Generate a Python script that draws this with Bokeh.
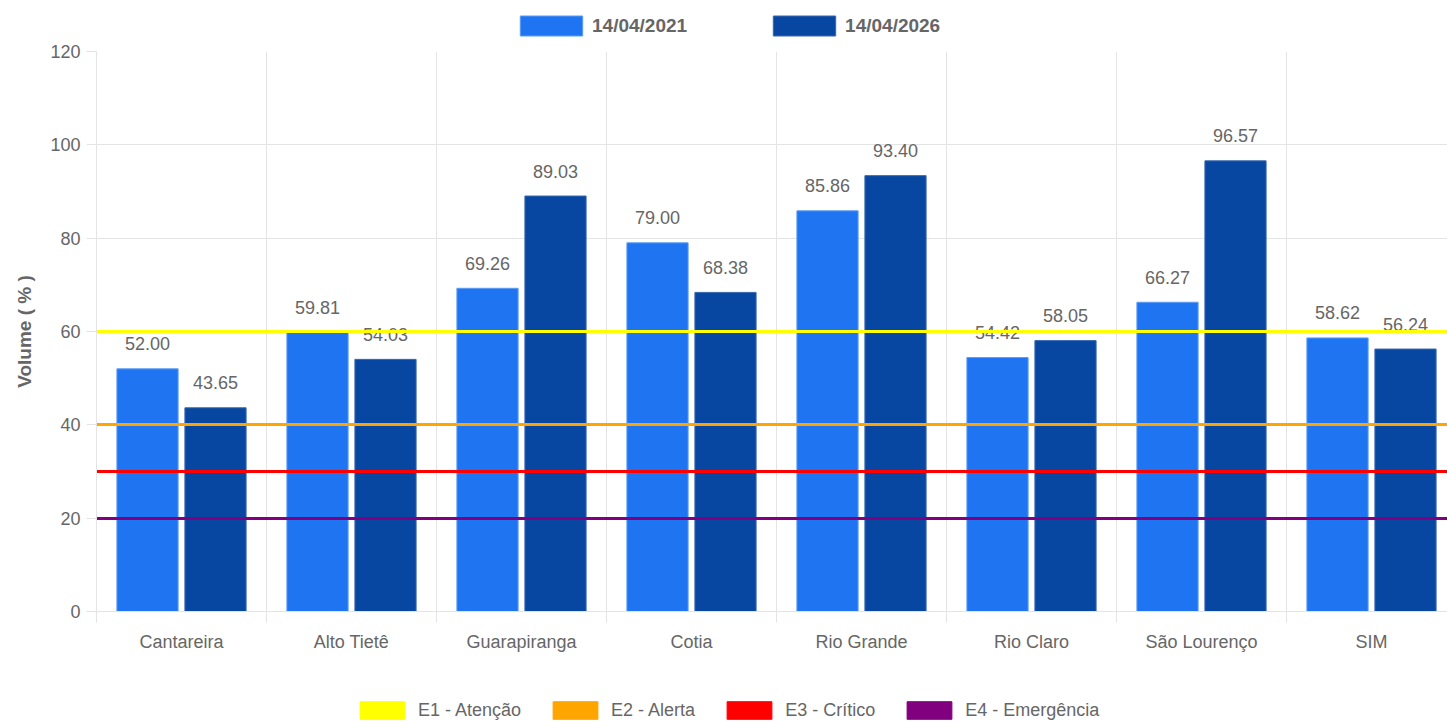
from bokeh.plotting import figure
from bokeh.layouts import column
from bokeh.models import FixedTicker, Legend, LegendItem, ColumnDataSource, Range1d
from bokeh.core.properties import value
from bokeh.embed import file_html
from bokeh.resources import INLINE

categories = ["Cantareira", "Alto Tietê", "Guarapiranga", "Cotia", "Rio Grande",
              "Rio Claro", "São Lourenço", "SIM"]
vol_2021 = [52.00, 59.81, 69.26, 79.00, 85.86, 54.42, 66.27, 58.62]
vol_2026 = [43.65, 54.03, 89.03, 68.38, 93.40, 58.05, 96.57, 56.24]
series_labels = ["14/04/2021", "14/04/2026"]
series_colors = ["#1F74F2", "#0747A1"]
series_borders = ["#5C9CF5", "#3A68B0"]
levels = [60, 40, 30, 20]
level_labels = ["E1 - Atenção", "E2 - Alerta", "E3 - Crítico", "E4 - Emergência"]
level_colors = ["#FFFF00", "#FFA500", "#FF0000", "#800080"]
y_ticks = [0, 20, 40, 60, 80, 100, 120]

FONT = "Liberation Sans"
GREY = "#666666"
GRID = "#e4e4e4"

W = 1447
TOP_H = 40
BOT_H = 40
LEFT = 96
MTOP = 11
FRAME_H = 560
MBOTTOM = 70
MAIN_H = MTOP + FRAME_H + MBOTTOM
cat_px = 170.0
x_end = (W - LEFT) / cat_px

# ---------------- main chart ----------------
p = figure(width=W, height=MAIN_H, output_backend="svg", toolbar_location=None,
           x_range=Range1d(0, x_end), y_range=Range1d(0, 120),
           min_border_left=LEFT, min_border_right=0, min_border_top=MTOP,
           min_border_bottom=MBOTTOM, outline_line_color=None)

centers = [i + 0.5 for i in range(len(categories))]
x1 = [c - 0.2 for c in centers]
x2 = [c + 0.2 for c in centers]

s1 = ColumnDataSource(dict(x=x1, top=vol_2021, lab=[f"{v:.2f}" for v in vol_2021]))
s2 = ColumnDataSource(dict(x=x2, top=vol_2026, lab=[f"{v:.2f}" for v in vol_2026]))

p.vbar(x="x", top="top", width=0.36, source=s1, fill_color=series_colors[0],
       line_color=series_borders[0], line_width=1)
p.vbar(x="x", top="top", width=0.36, source=s2, fill_color=series_colors[1],
       line_color=series_borders[1], line_width=1)

for s in (s1, s2):
    p.text(x="x", y="top", text="lab", source=s, text_align="center",
           text_baseline="alphabetic", y_offset=-25, text_color=GREY,
           text_font=value(FONT), text_font_size="18px")

lsrc = ColumnDataSource(dict(y=levels, color=level_colors))
p.hspan(y="y", source=lsrc, line_color="color", line_width=3)

p.xaxis.ticker = FixedTicker(ticks=centers, minor_ticks=list(range(len(categories) + 1)))
p.xaxis.major_label_overrides = {c: n for c, n in zip(centers, categories)}
p.xaxis.major_tick_out = 0
p.xaxis.major_tick_in = 0
p.xaxis.minor_tick_out = 11
p.xaxis.minor_tick_in = 0
p.xaxis.minor_tick_line_color = GRID
p.xaxis.axis_line_color = GRID
p.xaxis.major_label_standoff = 9
p.xaxis.major_label_text_font = FONT
p.xaxis.major_label_text_font_size = "18px"
p.xaxis.major_label_text_color = GREY

p.yaxis.ticker = FixedTicker(ticks=y_ticks)
p.yaxis.major_tick_out = 10
p.yaxis.major_tick_in = 0
p.yaxis.minor_tick_line_color = None
p.yaxis.major_tick_line_color = GRID
p.yaxis.axis_line_color = GRID
p.yaxis.major_label_standoff = 6
p.yaxis.major_label_text_font = FONT
p.yaxis.major_label_text_font_size = "18px"
p.yaxis.major_label_text_color = GREY
p.yaxis.axis_label = "Volume ( % )"
p.yaxis.axis_label_text_font = FONT
p.yaxis.axis_label_text_font_size = "19px"
p.yaxis.axis_label_text_font_style = "bold"
p.yaxis.axis_label_text_color = GREY
p.yaxis.axis_label_standoff = 12

p.xgrid.ticker = FixedTicker(ticks=list(range(len(categories))))
p.xgrid.grid_line_color = GRID
p.ygrid.ticker = FixedTicker(ticks=y_ticks)
p.ygrid.grid_line_color = GRID


def legend_strip(height):
    f = figure(width=W, height=height, output_backend="svg", toolbar_location=None,
               x_range=Range1d(0, 1), y_range=Range1d(0, 1),
               x_axis_location=None, y_axis_location=None,
               min_border_left=0, min_border_right=0, min_border_top=0,
               min_border_bottom=0, outline_line_color=None)
    f.xgrid.visible = False
    f.ygrid.visible = False
    return f


# legend swatch renderers: one point each, placed beyond the right edge so only
# the legend swatch is seen. The column layout aligns the strips' frames with the
# main chart's frame, so legend locations are measured from x = LEFT.
# (Bokeh insets area swatches by 10% on each side, hence the larger glyph sizes.)

# ---------------- top legend (series) ----------------
top = legend_strip(TOP_H)
top_r = [top.vbar(x=[5], top=[1], width=0.1, fill_color=c, line_color=b)
         for c, b in zip(series_colors, series_borders)]
top_leg = Legend(items=[LegendItem(label=l, renderers=[r]) for l, r in zip(series_labels, top_r)],
                 orientation="horizontal", location=(416, 2),
                 glyph_width=78, glyph_height=25, label_height=25,
                 label_standoff=2, spacing=78,
                 padding=0, margin=0, border_line_color=None, background_fill_alpha=0,
                 label_text_font=FONT, label_text_font_size="19px",
                 label_text_font_style="bold", label_text_color=GREY)
top.add_layout(top_leg, "center")

# ---------------- bottom legend (alert levels) ----------------
bot = legend_strip(BOT_H)
bot_r = [bot.vbar(x=[5], top=[1], width=0.1, fill_color=c, line_color=c) for c in level_colors]
bot_leg = Legend(items=[LegendItem(label=l, renderers=[r]) for l, r in zip(level_labels, bot_r)],
                 orientation="horizontal", location=(258, 0),
                 glyph_width=56, glyph_height=22, label_height=22,
                 label_standoff=8, spacing=26,
                 padding=0, margin=0, border_line_color=None, background_fill_alpha=0,
                 label_text_font=FONT, label_text_font_size="18px",
                 label_text_color=GREY)
bot.add_layout(bot_leg, "center")

layout = column(top, p, bot, spacing=0)
open("out.html", "w").write(file_html(layout, INLINE))
